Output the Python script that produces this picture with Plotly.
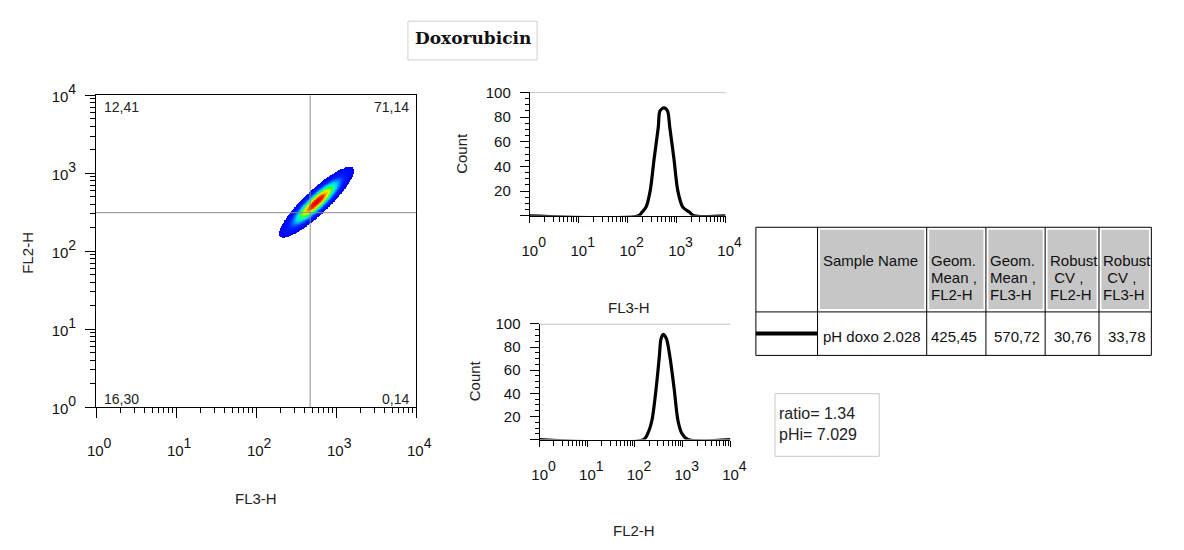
import numpy as np
import plotly.graph_objects as go

W, H = 1184, 550

# ---------------- data ----------------
# quadrant statistics (% of events): upper-left, upper-right, lower-left, lower-right
quadrant_pct = ["12,41", "71,14", "16,30", "0,14"]
gate_fl3 = 473.0      # vertical quadrant marker (FL3-H)
gate_fl2 = 312.0      # horizontal quadrant marker (FL2-H)

# table statistics
sample_names = ["pH doxo 2.028"]
geo_mean_fl2 = [425.45]
geo_mean_fl3 = [570.72]
robust_cv_fl2 = [30.76]
robust_cv_fl3 = [33.78]

# shape of the FL3/FL2 population cloud (log10 decades)
cloud_sd_major = 0.24
cloud_sd_minor = 0.058
cloud_angle_deg = 44.0
cloud_cutoff = 0.03

# FL3-H histogram (channel value, count)
hist_fl3_x = [1, 166, 197, 237, 288, 347, 423, 457, 550, 652, 724, 883, 1062, 1337, 1820, 2291, 10000]
hist_fl3_y = [0, 0, 3, 7, 20, 46, 72, 85, 87.4, 85, 72, 46, 20, 7, 3, 0, 0]

# FL2-H histogram (channel value, count)
hist_fl2_x = [1, 151, 186, 226, 277, 324, 351, 392, 457, 537, 661, 794, 955, 1279, 10000]
hist_fl2_y = [0, 0, 5.5, 16.5, 44, 72, 87, 91, 87, 72, 44, 16.5, 5.5, 0, 0]

ratio_text = "ratio= 1.34"
phi_text = "pHi= 7.029"

decades = [0, 1, 2, 3, 4]
decade_labels = ["<span style='font-size:15px'>10</span><sup>%d</sup>" % d for d in decades]
minor_decades = [np.log10(k * 10 ** d) for d in range(4) for k in range(2, 10)]

FONT = "Liberation Sans"


def px(x):
    return x / W


def py(y):
    return 1 - y / H


fig = go.Figure()

# ---------------- dot plot: density of FL3-H vs FL2-H ----------------
cx = np.log10(geo_mean_fl3[0])
cy = np.log10(geo_mean_fl2[0])
gx = np.arange(1.9, 3.6, 0.008)
gy = np.arange(1.8, 3.5, 0.008)
GX, GY = np.meshgrid(gx, gy)
th = np.deg2rad(cloud_angle_deg)
u = (GX - cx) * np.cos(th) + (GY - cy) * np.sin(th)
v = -(GX - cx) * np.sin(th) + (GY - cy) * np.cos(th)
dens = np.exp(-0.5 * ((u / cloud_sd_major) ** 2 + (v / cloud_sd_minor) ** 2))
dens = np.where(dens < cloud_cutoff, np.nan, dens)

jet_like = [
    [0.0, "#0000f4"], [0.15, "#001cff"], [0.25, "#006cff"], [0.35, "#00c8ff"],
    [0.45, "#00ffb8"], [0.55, "#38ff30"], [0.68, "#d8ff00"], [0.78, "#ffc000"],
    [0.88, "#ff3000"], [1.0, "#e00000"],
]
fig.add_trace(go.Heatmap(
    x=gx, y=gy, z=dens, colorscale=jet_like, zmin=0, zmax=1,
    showscale=False, hoverinfo="skip", zsmooth=False,
    xaxis="x", yaxis="y",
))

# ---------------- histograms ----------------
fig.add_trace(go.Scatter(
    x=np.log10(hist_fl3_x), y=hist_fl3_y, mode="lines",
    line=dict(color="black", width=3.2, shape="spline", smoothing=0.8),
    xaxis="x2", yaxis="y2", hoverinfo="skip",
))
fig.add_trace(go.Scatter(
    x=np.log10(hist_fl2_x), y=hist_fl2_y, mode="lines",
    line=dict(color="black", width=3.2, shape="spline", smoothing=0.8),
    xaxis="x3", yaxis="y3", hoverinfo="skip",
))

# base size sets the exponent size (70 %); the mantissa is set in the label itself
tickfont = dict(family=FONT, size=20, color="#111")


def log_axis(domain, anchor, standoff=None, mirror=False, ticklen=10, shift=None):
    d = dict(
        domain=domain, anchor=anchor, range=[0, 4], showgrid=False, zeroline=False,
        showline=True, linecolor="black", linewidth=1, mirror=mirror,
        tickmode="array", tickvals=decades, ticktext=decade_labels,
        ticks="outside", ticklen=ticklen, tickcolor="black", tickwidth=1,
        tickfont=tickfont,
        minor=dict(tickmode="array", tickvals=minor_decades, ticks="outside",
                   ticklen=5, tickcolor="black", tickwidth=1, showgrid=False),
    )
    if standoff is not None:
        d["ticklabelstandoff"] = standoff
    if shift is not None:
        d["ticklabelshift"] = shift
    return d


def count_axis(domain, anchor):
    return dict(
        domain=domain, anchor=anchor, range=[0, 100], showgrid=False, zeroline=False,
        showline=True, linecolor="black", linewidth=1,
        tickmode="array", tickvals=[0, 20, 40, 60, 80, 100],
        ticktext=["", "20", "40", "60", "80", "100"],
        ticks="outside", ticklen=9, tickcolor="black", tickwidth=1,
        tickfont=dict(family=FONT, size=15, color="#111"), ticklabelstandoff=6,
        minor=dict(tickmode="linear", tick0=0, dtick=5, ticks="outside", ticklen=4,
                   tickcolor="black", tickwidth=1, showgrid=False),
    )


fig.update_layout(
    width=W, height=H, margin=dict(l=0, r=0, t=0, b=0),
    paper_bgcolor="white", plot_bgcolor="white", showlegend=False,
    xaxis=log_axis([px(89), px(416)], "y", standoff=14, mirror=True, shift=3),
    yaxis=log_axis([py(411), py(85)], "x", standoff=5, mirror=True),
    xaxis2=log_axis([px(532), px(732)], "y2", standoff=9, ticklen=6, shift=4),
    yaxis2=count_axis([py(211), py(82)], "x2"),
    xaxis3=log_axis([px(542), px(737)], "y3", standoff=9, ticklen=6, shift=4),
    yaxis3=count_axis([py(445), py(324)], "x3"),
)

shapes = []
ann = []

# quadrant markers
shapes.append(dict(type="line", xref="x", yref="y domain", x0=np.log10(gate_fl3), x1=np.log10(gate_fl3),
                   y0=0, y1=1, line=dict(color="#8a8a8a", width=1)))
shapes.append(dict(type="line", xref="x domain", yref="y", x0=0, x1=1, y0=np.log10(gate_fl2),
                   y1=np.log10(gate_fl2), line=dict(color="#8a8a8a", width=1)))
qfont = dict(family=FONT, size=14, color="#222")
ann.append(dict(xref="paper", yref="paper", x=px(95), y=py(97), text=quadrant_pct[0], xanchor="left",
                yanchor="middle", showarrow=False, font=qfont))
ann.append(dict(xref="paper", yref="paper", x=px(411), y=py(97), text=quadrant_pct[1], xanchor="right",
                yanchor="middle", showarrow=False, font=qfont))
ann.append(dict(xref="paper", yref="paper", x=px(95), y=py(403), text=quadrant_pct[2], xanchor="left",
                yanchor="middle", showarrow=False, font=qfont))
ann.append(dict(xref="paper", yref="paper", x=px(411), y=py(403), text=quadrant_pct[3], xanchor="right",
                yanchor="middle", showarrow=False, font=qfont))

# histogram top borders
for xr, yr in (("x2 domain", "y2"), ("x3 domain", "y3")):
    shapes.append(dict(type="line", xref=xr, yref=yr, x0=0, x1=1, y0=100, y1=100,
                       line=dict(color="#8a8a8a", width=1)))

# axis titles
tfont = dict(family=FONT, size=15, color="#222")
for x, y, t, rot in ((18, 250, "FL2-H", -90), (252, 507, "FL3-H", 0),
                     (462, 146, "Count", -90), (633, 307, "FL3-H", 0),
                     (475, 383, "Count", -90), (638, 540, "FL2-H", 0)):
    ann.append(dict(xref="paper", yref="paper", x=px(x), y=py(y), text=t, textangle=rot,
                    showarrow=False, xanchor="center", yanchor="middle", font=tfont))

# title box
shapes.append(dict(type="rect", xref="paper", yref="paper", x0=px(407.5), x1=px(539.5),
                   y0=py(48), y1=py(7.5), line=dict(color="#cfcfcf", width=1)))
ann.append(dict(xref="paper", yref="paper", x=px(473.5), y=py(25), text="<b>Doxorubicin</b>",
                showarrow=False, xanchor="center", yanchor="middle",
                font=dict(family="DejaVu Serif", size=17, color="#111")))

# ---------------- statistics table ----------------
col_edges = [763, 826, 937.5, 998, 1058.5, 1113.5, 1167]
row_top, row_mid, row_bot = 223, 311.5, 357
for i in range(1, 6):
    shapes.append(dict(type="rect", xref="paper", yref="paper", x0=px(col_edges[i] + 2.5),
                       x1=px(col_edges[i + 1] - 2.5), y0=py(row_mid - 3), y1=py(row_top + 2.5),
                       fillcolor="#c6c6c6", line=dict(width=0), layer="below"))
for xe in col_edges:
    shapes.append(dict(type="line", xref="paper", yref="paper", x0=px(xe), x1=px(xe),
                       y0=py(row_bot), y1=py(row_top), line=dict(color="black", width=1)))
for ye in (row_top, row_mid, row_bot):
    shapes.append(dict(type="line", xref="paper", yref="paper", x0=px(col_edges[0]), x1=px(col_edges[-1]),
                       y0=py(ye), y1=py(ye), line=dict(color="black", width=1)))
# legend swatch for the histogram line
shapes.append(dict(type="line", xref="paper", yref="paper", x0=px(763), x1=px(826),
                   y0=py(334), y1=py(334), line=dict(color="black", width=4)))

cfont = dict(family=FONT, size=15, color="#111")
header_cells = [
    (830, ["Sample Name"]),
    (939.5, ["Geom.", "Mean ,", "FL2-H"]),
    (1000, ["Geom.", "Mean ,", "FL3-H"]),
    (1061, ["Robust", "\u00a0CV ,", "FL2-H"]),
    (1115.5, ["Robust", "\u00a0CV ,", "FL3-H"]),
]
line_y = [258, 276, 293.5]
for x, lines in header_cells:
    for k, t in enumerate(lines):
        ann.append(dict(xref="paper", yref="paper", x=px(x), y=py(line_y[k]), text=t, showarrow=False,
                        xanchor="left", yanchor="middle", font=cfont))


def fmt(v):
    return ("%.2f" % v).replace(".", ",")


ann.append(dict(xref="paper", yref="paper", x=px(829.5), y=py(337), text=sample_names[0], showarrow=False,
                xanchor="left", yanchor="middle", font=cfont))
for xr, vals in ((991, geo_mean_fl2), (1055.5, geo_mean_fl3), (1108.5, robust_cv_fl2), (1164, robust_cv_fl3)):
    ann.append(dict(xref="paper", yref="paper", x=px(xr), y=py(337), text=fmt(vals[0]), showarrow=False,
                    xanchor="right", yanchor="middle", font=cfont))

# ratio / pHi box
shapes.append(dict(type="rect", xref="paper", yref="paper", x0=px(782.5), x1=px(889),
                   y0=py(462.5), y1=py(397), line=dict(color="#c8c8c8", width=1)))
rfont = dict(family=FONT, size=16, color="#222")
ann.append(dict(xref="paper", yref="paper", x=px(785), y=py(418), text=ratio_text, showarrow=False,
                xanchor="left", yanchor="middle", font=rfont))
ann.append(dict(xref="paper", yref="paper", x=px(785), y=py(440), text=phi_text, showarrow=False,
                xanchor="left", yanchor="middle", font=rfont))

fig.update_layout(shapes=shapes, annotations=ann)
fig.write_html("out.html")
